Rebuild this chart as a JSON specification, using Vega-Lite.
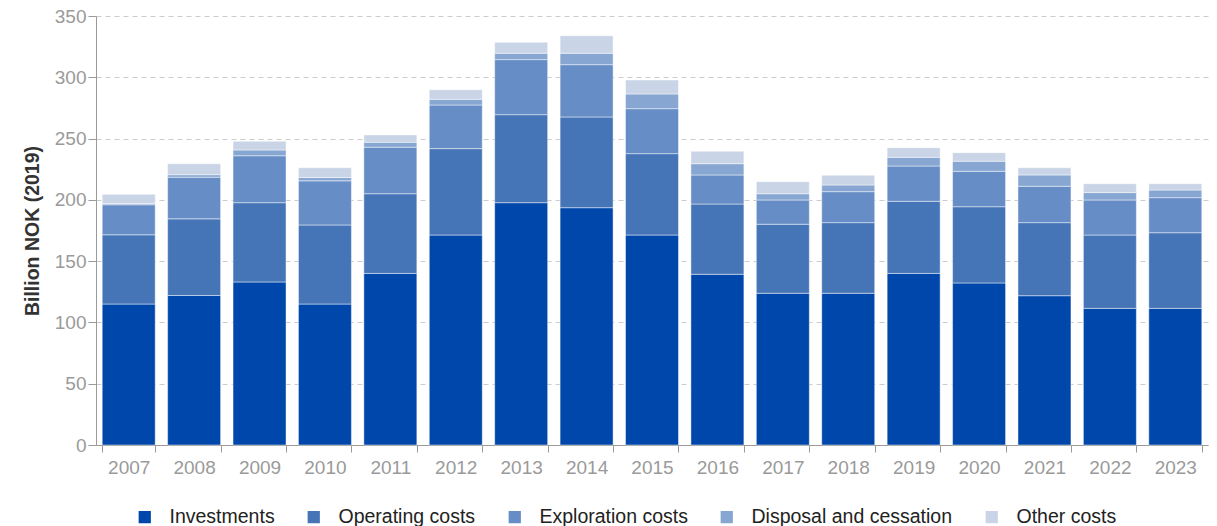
{
  "$schema": "https://vega.github.io/schema/vega-lite/v6.json",
  "width": 1112,
  "height": 429,
  "autosize": {"type": "none"},
  "padding": {"left": 96, "top": 16, "right": 9, "bottom": 81},
  "background": "#ffffff",
  "config": {
    "font": "Liberation Sans",
    "view": {"stroke": null}
  },
  "datasets": {
    "costs": [
      {"year": "2007", "cost": "Investments", "value": 115},
      {"year": "2007", "cost": "Operating costs", "value": 56.5},
      {"year": "2007", "cost": "Exploration costs", "value": 24.5},
      {"year": "2007", "cost": "Disposal and cessation", "value": 1},
      {"year": "2007", "cost": "Other costs", "value": 7.5},
      {"year": "2008", "cost": "Investments", "value": 122},
      {"year": "2008", "cost": "Operating costs", "value": 62.5},
      {"year": "2008", "cost": "Exploration costs", "value": 34},
      {"year": "2008", "cost": "Disposal and cessation", "value": 2},
      {"year": "2008", "cost": "Other costs", "value": 9},
      {"year": "2009", "cost": "Investments", "value": 133},
      {"year": "2009", "cost": "Operating costs", "value": 64.7},
      {"year": "2009", "cost": "Exploration costs", "value": 38.3},
      {"year": "2009", "cost": "Disposal and cessation", "value": 4.7},
      {"year": "2009", "cost": "Other costs", "value": 7.1},
      {"year": "2010", "cost": "Investments", "value": 115},
      {"year": "2010", "cost": "Operating costs", "value": 64.5},
      {"year": "2010", "cost": "Exploration costs", "value": 36},
      {"year": "2010", "cost": "Disposal and cessation", "value": 2.7},
      {"year": "2010", "cost": "Other costs", "value": 8},
      {"year": "2011", "cost": "Investments", "value": 140},
      {"year": "2011", "cost": "Operating costs", "value": 65},
      {"year": "2011", "cost": "Exploration costs", "value": 38},
      {"year": "2011", "cost": "Disposal and cessation", "value": 4},
      {"year": "2011", "cost": "Other costs", "value": 6},
      {"year": "2012", "cost": "Investments", "value": 171.3},
      {"year": "2012", "cost": "Operating costs", "value": 70.5},
      {"year": "2012", "cost": "Exploration costs", "value": 35.6},
      {"year": "2012", "cost": "Disposal and cessation", "value": 4.6},
      {"year": "2012", "cost": "Other costs", "value": 7.9},
      {"year": "2013", "cost": "Investments", "value": 197.7},
      {"year": "2013", "cost": "Operating costs", "value": 71.8},
      {"year": "2013", "cost": "Exploration costs", "value": 44.9},
      {"year": "2013", "cost": "Disposal and cessation", "value": 5.2},
      {"year": "2013", "cost": "Other costs", "value": 8.9},
      {"year": "2014", "cost": "Investments", "value": 193.6},
      {"year": "2014", "cost": "Operating costs", "value": 74},
      {"year": "2014", "cost": "Exploration costs", "value": 42.7},
      {"year": "2014", "cost": "Disposal and cessation", "value": 9.3},
      {"year": "2014", "cost": "Other costs", "value": 14.3},
      {"year": "2015", "cost": "Investments", "value": 171.3},
      {"year": "2015", "cost": "Operating costs", "value": 66.4},
      {"year": "2015", "cost": "Exploration costs", "value": 36.7},
      {"year": "2015", "cost": "Disposal and cessation", "value": 12},
      {"year": "2015", "cost": "Other costs", "value": 11.4},
      {"year": "2016", "cost": "Investments", "value": 139.3},
      {"year": "2016", "cost": "Operating costs", "value": 57.3},
      {"year": "2016", "cost": "Exploration costs", "value": 23.7},
      {"year": "2016", "cost": "Disposal and cessation", "value": 9.2},
      {"year": "2016", "cost": "Other costs", "value": 10.1},
      {"year": "2017", "cost": "Investments", "value": 123.8},
      {"year": "2017", "cost": "Operating costs", "value": 56.3},
      {"year": "2017", "cost": "Exploration costs", "value": 19.8},
      {"year": "2017", "cost": "Disposal and cessation", "value": 5.1},
      {"year": "2017", "cost": "Other costs", "value": 9.8},
      {"year": "2018", "cost": "Investments", "value": 123.8},
      {"year": "2018", "cost": "Operating costs", "value": 57.6},
      {"year": "2018", "cost": "Exploration costs", "value": 25.3},
      {"year": "2018", "cost": "Disposal and cessation", "value": 5.4},
      {"year": "2018", "cost": "Other costs", "value": 7.9},
      {"year": "2019", "cost": "Investments", "value": 140},
      {"year": "2019", "cost": "Operating costs", "value": 58.8},
      {"year": "2019", "cost": "Exploration costs", "value": 28.8},
      {"year": "2019", "cost": "Disposal and cessation", "value": 7.1},
      {"year": "2019", "cost": "Other costs", "value": 7.9},
      {"year": "2020", "cost": "Investments", "value": 132.2},
      {"year": "2020", "cost": "Operating costs", "value": 62.2},
      {"year": "2020", "cost": "Exploration costs", "value": 28.9},
      {"year": "2020", "cost": "Disposal and cessation", "value": 8.2},
      {"year": "2020", "cost": "Other costs", "value": 7},
      {"year": "2021", "cost": "Investments", "value": 121.8},
      {"year": "2021", "cost": "Operating costs", "value": 59.6},
      {"year": "2021", "cost": "Exploration costs", "value": 29.7},
      {"year": "2021", "cost": "Disposal and cessation", "value": 9.2},
      {"year": "2021", "cost": "Other costs", "value": 5.9},
      {"year": "2022", "cost": "Investments", "value": 111.5},
      {"year": "2022", "cost": "Operating costs", "value": 59.8},
      {"year": "2022", "cost": "Exploration costs", "value": 28.6},
      {"year": "2022", "cost": "Disposal and cessation", "value": 6},
      {"year": "2022", "cost": "Other costs", "value": 7.3},
      {"year": "2023", "cost": "Investments", "value": 111.5},
      {"year": "2023", "cost": "Operating costs", "value": 61.7},
      {"year": "2023", "cost": "Exploration costs", "value": 28.6},
      {"year": "2023", "cost": "Disposal and cessation", "value": 6.2},
      {"year": "2023", "cost": "Other costs", "value": 5.2}
    ]
  },
  "data": {"name": "costs"},
  "transform": [
    {"calculate": "indexof(['Investments','Operating costs','Exploration costs','Disposal and cessation','Other costs'], datum.cost)", "as": "rank"}
  ],
  "mark": {"type": "bar", "stroke": "#ffffff", "strokeOpacity": 0.45, "strokeWidth": 1},
  "encoding": {
    "x": {
      "field": "year",
      "type": "ordinal",
      "scale": {"paddingInner": 0.19, "paddingOuter": 0.095},
      "axis": {
        "title": null,
        "labelAngle": 0,
        "labelFont": "Liberation Sans",
        "labelFontSize": 19,
        "labelColor": "#9a9a9a",
        "labelPadding": 6,
        "domainColor": "#9a9a9a",
        "tickColor": "#9a9a9a",
        "tickSize": 7,
        "tickBand": "extent",
        "grid": false
      }
    },
    "y": {
      "field": "value",
      "type": "quantitative",
      "aggregate": "sum",
      "stack": "zero",
      "scale": {"domain": [0, 350], "nice": false},
      "axis": {
        "title": "Billion NOK (2019)",
        "titleFont": "Liberation Sans",
        "titleFontSize": 19.5,
        "titleFontWeight": "bold",
        "titleColor": "#333333",
        "titlePadding": 12,
        "values": [0, 50, 100, 150, 200, 250, 300, 350],
        "labelFont": "Liberation Sans",
        "labelFontSize": 19,
        "labelColor": "#9a9a9a",
        "labelPadding": 2,
        "domainColor": "#9a9a9a",
        "tickColor": "#9a9a9a",
        "tickSize": 8,
        "grid": true,
        "gridColor": "#cccccc",
        "gridDash": [5, 4],
        "gridWidth": 1
      }
    },
    "color": {
      "field": "cost",
      "type": "nominal",
      "scale": {
        "domain": ["Investments", "Operating costs", "Exploration costs", "Disposal and cessation", "Other costs"],
        "range": ["#0047ab", "#4575b7", "#668dc5", "#87a6d2", "#c9d5e6"]
      },
      "legend": {
        "title": null,
        "orient": "none",
        "direction": "horizontal",
        "legendX": 39,
        "legendY": 491,
        "symbolType": "square",
        "symbolSize": 150,
        "symbolStrokeWidth": 0,
        "labelFont": "Liberation Sans",
        "labelFontSize": 19.5,
        "labelColor": "#222222",
        "labelOffset": 15,
        "columnPadding": 29,
        "labelLimit": 400
      }
    },
    "order": {"field": "rank", "type": "quantitative", "sort": "ascending"}
  }
}
